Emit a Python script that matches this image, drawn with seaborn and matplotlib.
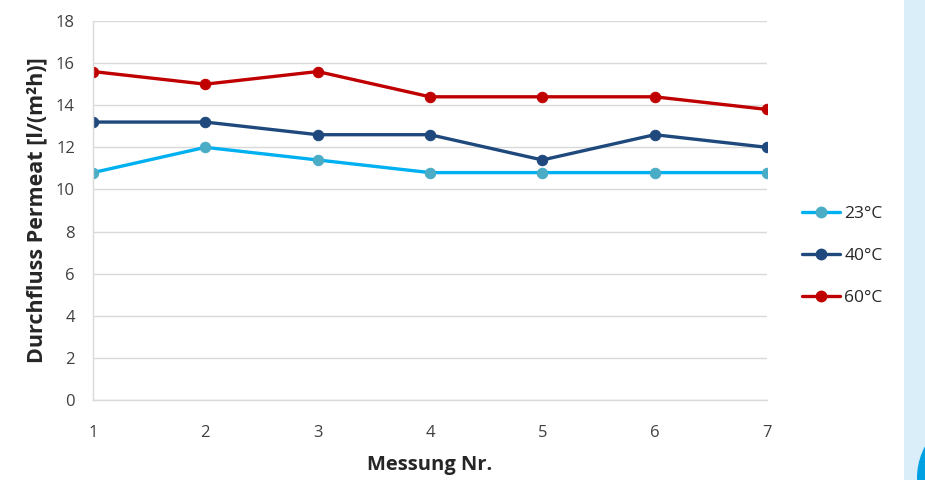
import matplotlib
matplotlib.use("Agg")
import matplotlib.pyplot as plt
from matplotlib.lines import Line2D
from matplotlib.patches import Rectangle, Circle
import seaborn as sns
import pandas as pd

messung = [1, 2, 3, 4, 5, 6, 7]
t23 = [10.8, 12.0, 11.4, 10.8, 10.8, 10.8, 10.8]
t40 = [13.2, 13.2, 12.6, 12.6, 11.4, 12.6, 12.0]
t60 = [15.6, 15.0, 15.6, 14.4, 14.4, 14.4, 13.8]
series_names = ["23°C", "40°C", "60°C"]
line_colors = ["#00B0F0", "#1F497D", "#C00000"]
marker_colors = ["#4BACC6", "#1F497D", "#C00000"]

df = pd.DataFrame({
    "Messung": messung * 3,
    "Durchfluss": t23 + t40 + t60,
    "Serie": [s for s in series_names for _ in messung],
})

sns.set_theme(style="white")
plt.rcParams["font.family"] = ["Open Sans", "DejaVu Sans"]

fig = plt.figure(figsize=(9.25, 4.8), dpi=100)
fig.patch.set_facecolor("white")

# Decorative side band and circle at the right edge (pixel coordinates)
ax_deco = fig.add_axes([0, 0, 1, 1], zorder=-1)
ax_deco.set_xlim(0, 925)
ax_deco.set_ylim(480, 0)
ax_deco.axis("off")
ax_deco.add_patch(Rectangle((904, 0), 21, 480, facecolor="#DAEEF9", edgecolor="none"))
ax_deco.add_patch(Circle((984, 478), 67, facecolor="#00A0E3", edgecolor="none"))

ax = fig.add_axes([93 / 925, 80 / 480, (767 - 93) / 925, (400 - 21) / 480])
ax.patch.set_alpha(0)

sns.lineplot(data=df, x="Messung", y="Durchfluss", hue="Serie",
             palette=dict(zip(series_names, line_colors)),
             marker="o", markersize=7.5, linewidth=2.4, legend=False, ax=ax)

for line, mc in zip(ax.get_lines(), marker_colors):
    line.set_markerfacecolor(mc)
    line.set_markeredgecolor(mc)
    line.set_solid_capstyle("round")

ax.set_xlim(1, 7)
ax.set_ylim(0, 18)
ax.set_xticks(messung)
ax.set_yticks(range(0, 19, 2))
ax.grid(axis="y", color="#D9D9D9", linewidth=1)
ax.set_axisbelow(True)
for side in ["top", "right"]:
    ax.spines[side].set_visible(False)
for side in ["left", "bottom"]:
    ax.spines[side].set_color("#D9D9D9")
    ax.spines[side].set_linewidth(1)
ax.tick_params(axis="both", length=0, labelsize=12, colors="#404040")
ax.tick_params(axis="x", pad=18)
ax.tick_params(axis="y", pad=13)

ax.set_xlabel("Messung Nr.", fontsize=14.5, fontweight="bold", color="#262626", labelpad=10)
ax.set_ylabel("Durchfluss Permeat [l/(m²h)]", fontsize=15.5, fontweight="bold",
              color="#262626", labelpad=6)

handles = [Line2D([0], [0], color=lc, linewidth=2.4, marker="o", markersize=7.5,
                  markerfacecolor=mc, markeredgecolor=mc)
           for lc, mc in zip(line_colors, marker_colors)]
fig.legend(handles, series_names, loc="center left",
           bbox_to_anchor=(786 / 925, 1 - 256 / 480), frameon=False,
           fontsize=12.5, labelcolor="#262626", handlelength=2.2,
           handletextpad=0.25, labelspacing=1.5)

fig.savefig("out.png", dpi=100, facecolor="white")
